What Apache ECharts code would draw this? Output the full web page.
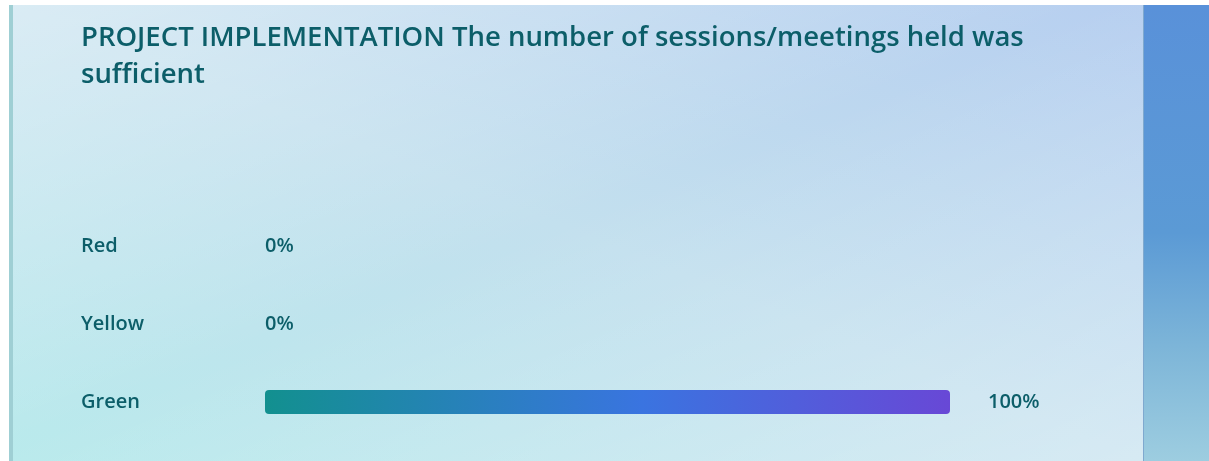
<!DOCTYPE html>
<html>
<head>
<meta charset="utf-8">
<script src="https://cdn.jsdelivr.net/npm/echarts@6/dist/echarts.min.js"></script>
<style>
  html, body { margin: 0; padding: 0; width: 1209px; height: 461px; background: #ffffff; overflow: hidden; }
  #panel { position: absolute; left: 9px; top: 5px; width: 1134px; height: 456px;
    border-left: 4px solid #9fcfd4; box-sizing: border-box;
    background:
      linear-gradient(to bottom right, rgba(255,255,255,0.38) 0%, rgba(255,255,255,0) 48%, rgba(255,255,255,0.32) 100%),
      linear-gradient(to top right, #b9eaec 0%, #c3e0ee 50%, #b7cff0 100%); }
  #side { position: absolute; left: 1143px; top: 5px; width: 66px; height: 456px;
    border-left: 1px solid #7fa9cf; box-sizing: border-box;
    background: linear-gradient(to bottom, #5991d9 0%, #5b9ad5 50%, #7db5d8 75%, #9dcde0 100%); }
  #chart { position: absolute; left: 0; top: 0; width: 1209px; height: 461px; }
</style>
</head>
<body>
<div id="panel"></div>
<div id="side"></div>
<div id="chart"></div>
<script>
const titleText = 'PROJECT IMPLEMENTATION The number of sessions/meetings held was\nsufficient';
const categories = ['Red', 'Yellow', 'Green'];
const values = [0, 0, 100];

const textColor = '#0c5e69';
const fontFam = '"Open Sans", "Noto Sans", sans-serif';

const chart = echarts.init(document.getElementById('chart'), null, { renderer: 'canvas' });
chart.setOption({
  backgroundColor: 'transparent',
  animation: false,
  title: {
    text: titleText,
    left: 76, top: 15,
    textStyle: { color: textColor, fontFamily: fontFam, fontSize: 27.5, fontWeight: 600, lineHeight: 37 }
  },
  grid: { left: 265, right: 259, top: 207, height: 234, containLabel: false },
  xAxis: {
    type: 'value', min: 0, max: 100, show: false
  },
  yAxis: {
    type: 'category', data: categories, inverse: true,
    axisLine: { show: false }, axisTick: { show: false }, splitLine: { show: false },
    axisLabel: { align: 'left', margin: 184, color: textColor, fontFamily: fontFam, fontSize: 20, fontWeight: 600,
      padding: [9, 0, 0, 0] }
  },
  series: [{
    type: 'bar',
    barWidth: 24,
    data: values.map(v => ({
      value: v,
      label: { distance: v > 0 ? 38 : 0 }
    })),
    itemStyle: {
      borderRadius: 4,
      color: new echarts.graphic.LinearGradient(0, 0, 1, 0, [
        { offset: 0, color: '#12908f' },
        { offset: 0.55, color: '#3a74e0' },
        { offset: 1, color: '#6848d6' }
      ])
    },
    label: {
      show: true, position: 'right',
      formatter: p => p.value + '%',
      color: textColor, fontFamily: fontFam, fontSize: 20, fontWeight: 600,
      padding: [9, 0, 0, 0]
    }
  }]
});
</script>
</body>
</html>
